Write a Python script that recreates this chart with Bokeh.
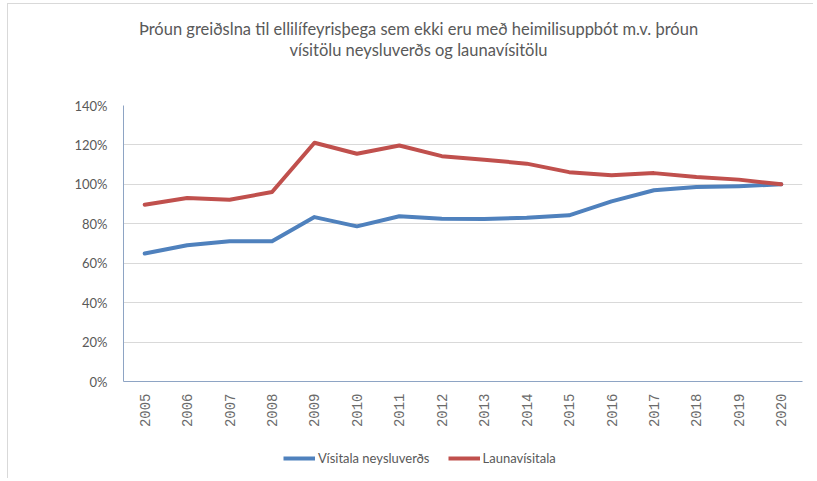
from bokeh.plotting import figure
from bokeh.models import (ColumnDataSource, FactorRange, Range1d, FixedTicker,
                          PrintfTickFormatter, Legend, LegendItem, Label)
from bokeh.layouts import column
from bokeh.embed import file_html
from bokeh.resources import INLINE
import math

years = [str(y) for y in range(2005, 2021)]
visitala_neysluverds = [64.9, 69.1, 71.1, 71.1, 83.4, 78.7, 83.8, 82.6,
                        82.4, 83.1, 84.3, 91.4, 97.0, 98.6, 99.1, 100.0]
launavisitala = [89.7, 93.1, 92.2, 96.1, 121.1, 115.5, 119.7, 114.3,
                 112.5, 110.5, 106.2, 104.6, 105.7, 103.7, 102.4, 100.0]
y_ticks = [0, 20, 40, 60, 80, 100, 120, 140]
series_names = ["Vísitala neysluverðs", "Launavísitala"]
title_lines = ["Þróun greiðslna til ellilífeyrisþega sem ekki eru með heimilisuppbót m.v. þróun",
               "vísitölu neysluverðs og launavísitölu"]

BLUE = "#4F81BD"
RED = "#C0504D"
TXT = "#595959"
FONT = "Lato"
W = 805

# ---- title strip (frame is aligned with the chart frame by the column layout) ----
TH = 76
pt = figure(width=W, height=TH, x_range=Range1d(123, 802), y_range=Range1d(0, TH),
            x_axis_type=None, y_axis_type=None, output_backend="svg",
            toolbar_location=None, min_border=0)
pt.outline_line_color = None
pt.grid.visible = False
for txt, yy in zip(title_lines, [TH - 24, TH - 45]):
    pt.add_layout(Label(x=418, y=yy, text=txt, text_align="center", text_baseline="middle",
                        text_font=FONT, text_font_size="16.5px", text_color=TXT))

# ---- chart ----
src = ColumnDataSource(dict(x=years, a=visitala_neysluverds, b=launavisitala))
p = figure(width=W, height=360, x_range=FactorRange(*years),
           y_range=Range1d(0, 140), output_backend="svg", toolbar_location=None,
           min_border_left=115, min_border_right=11, min_border_top=25,
           min_border_bottom=59)
p.outline_line_color = None
p.x_range.range_padding = 0

p.line("x", "a", source=src, line_color=BLUE, line_width=4, line_cap="round", line_join="round")
p.line("x", "b", source=src, line_color=RED, line_width=4, line_cap="round", line_join="round")

p.yaxis.ticker = FixedTicker(ticks=y_ticks)
p.yaxis.formatter = PrintfTickFormatter(format="%d%%")
p.ygrid.ticker = FixedTicker(ticks=y_ticks)
p.ygrid.grid_line_color = "#d9d9d9"
p.xgrid.grid_line_color = None

for ax in (p.xaxis, p.yaxis):
    ax.axis_line_color = "#8EA4C4"
    ax.axis_line_width = 1
    ax.major_tick_line_color = None
    ax.minor_tick_line_color = None
    ax.major_label_text_color = TXT
    ax.major_label_text_font = FONT
p.yaxis.major_label_text_font_size = "13px"
p.yaxis.major_label_standoff = 10
p.xaxis.major_label_text_font = "Liberation Mono"
p.xaxis.major_label_text_font_size = "14px"
p.xaxis.major_label_text_color = "#6a6a6a"
p.xaxis.major_label_orientation = math.pi / 2
p.xaxis.major_label_standoff = 6

# ---- legend strip: same data, drawn outside its visible y range so only the legend shows ----
pl = figure(width=W, height=38, x_range=FactorRange(*years), y_range=Range1d(1000, 1001),
            x_axis_type=None, y_axis_type=None, output_backend="svg",
            toolbar_location=None, min_border=0)
pl.outline_line_color = None
pl.grid.visible = False
l1 = pl.line("x", "a", source=src, line_color=BLUE, line_width=4)
l2 = pl.line("x", "b", source=src, line_color=RED, line_width=4)
legend = Legend(items=[LegendItem(label=series_names[0], renderers=[l1]),
                       LegendItem(label=series_names[1], renderers=[l2])],
                orientation="horizontal", location=(160, 12),
                label_text_font=FONT, label_text_font_size="13px", label_text_color=TXT,
                glyph_width=32, glyph_height=14, spacing=18, label_standoff=3,
                border_line_color=None, background_fill_alpha=0, margin=0, padding=0)
pl.add_layout(legend, "center")

layout = column(pt, p, pl, spacing=0, margin=(3, 0, 0, 7),
                styles={"border-left": "1px solid #d9d9d9", "border-top": "1px solid #d9d9d9"})

open("out.html", "w").write(file_html(layout, INLINE))
